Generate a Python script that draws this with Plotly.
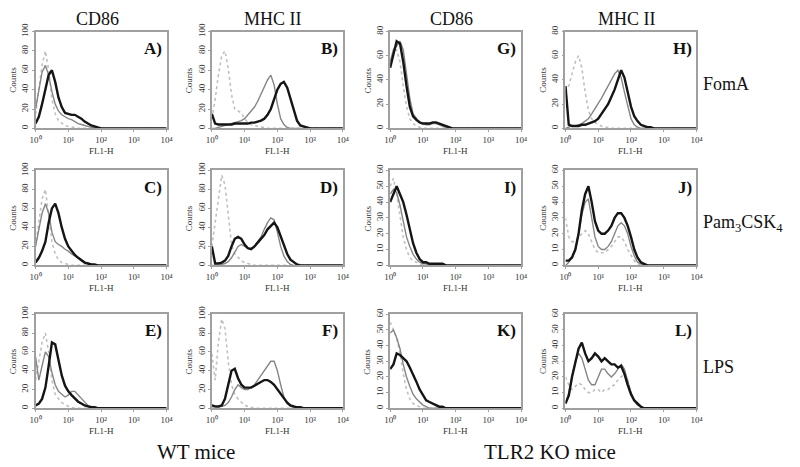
import plotly.graph_objects as go

# FL1-H channel positions (log scale grid)
FL1 = [1, 1.26, 1.58, 2.0, 2.51, 3.16, 3.98, 5.01, 6.31, 7.94, 10,
       12.6, 15.8, 20, 25.1, 31.6, 39.8, 50.1, 63.1, 79.4, 100, 126,
       158, 200, 251, 316, 398, 501, 631, 794, 1000, 3162, 10000]

# ---- WT mice, CD86 ----
A_ctrl = [15,40,65,80,60,30,15,8,5,3,2, 1,1,0,0,0,0,0,0,0,0,0, 0,0,0,0,0,0,0,0,0,0,0]
A_gray = [20,40,58,65,55,38,25,18,14,12,10, 9,7,5,4,3,2,1,1,0,0,0, 0,0,0,0,0,0,0,0,0,0,0]
A_black = [5,12,25,42,55,60,48,32,22,16,15, 14,14,12,10,7,5,3,2,1,0,0, 0,0,0,0,0,0,0,0,0,0,0]
C_ctrl = [20,45,70,80,55,25,12,6,3,2,1, 0,0,0,0,0,0,0,0,0,0,0, 0,0,0,0,0,0,0,0,0,0,0]
C_gray = [20,40,55,65,55,35,25,22,20,17,15, 12,10,8,5,3,2,1,0,0,0,0, 0,0,0,0,0,0,0,0,0,0,0]
C_black = [3,8,15,25,45,60,65,55,40,28,20, 15,11,8,5,3,2,1,1,0,0,0, 0,0,0,0,0,0,0,0,0,0,0]
E_ctrl = [30,50,70,80,60,30,15,10,6,4,2, 1,0,0,0,0,0,0,0,0,0,0, 0,0,0,0,0,0,0,0,0,0,0]
E_gray = [55,30,45,60,55,38,25,18,15,12,14, 18,18,14,10,6,3,2,1,0,0,0, 0,0,0,0,0,0,0,0,0,0,0]
E_black = [3,5,10,22,45,70,68,52,35,24,18, 14,10,7,5,3,2,1,1,0,0,0, 0,0,0,0,0,0,0,0,0,0,0]

# ---- WT mice, MHC II ----
B_ctrl = [10,30,55,75,80,62,35,20,18,16,10, 6,4,3,2,1,1,0,0,0,0,0, 0,0,0,0,0,0,0,0,0,0,0]
B_gray = [0,0,1,2,3,4,5,6,7,8,10, 14,18,22,28,35,42,50,55,45,25,10, 4,1,0,0,0,0,0,0,0,0,0]
B_black = [15,5,4,4,4,4,4,5,5,5,5, 5,6,6,7,8,10,14,20,30,40,46, 48,42,30,18,8,3,2,1,0,0,0]
D_ctrl = [20,45,75,95,85,50,22,12,8,5,3, 2,1,0,0,0,0,0,0,0,0,0, 0,0,0,0,0,0,0,0,0,0,0]
D_gray = [0,0,0,1,2,4,8,14,20,22,20, 18,18,20,25,30,38,45,50,48,35,20, 10,4,1,0,0,0,0,0,0,0,0]
D_black = [20,2,2,3,5,10,20,28,30,28,22, 18,17,20,24,28,32,38,42,45,40,30, 20,12,6,3,1,0,0,0,0,0,0]
F_ctrl = [58,30,70,95,85,50,25,15,10,6,3, 2,1,0,0,0,0,0,0,0,0,0, 0,0,0,0,0,0,0,0,0,0,0]
F_gray = [0,0,1,2,3,6,12,20,25,22,20, 20,22,25,30,35,40,46,50,50,40,25, 12,5,2,1,0,0,0,0,0,0,0]
F_black = [3,2,2,3,10,25,40,42,32,25,22, 22,22,24,26,28,30,30,28,25,20,15, 10,6,3,2,1,1,0,0,0,0,0]

# ---- TLR2 KO mice, CD86 ----
G_ctrl = [50,62,65,55,35,18,8,4,2,1,0, 0,0,0,0,0,0,0,0,0,0,0, 0,0,0,0,0,0,0,0,0,0,0]
G_gray = [55,65,68,72,65,45,25,12,8,5,4, 3,3,4,4,3,2,1,1,0,0,0, 0,0,0,0,0,0,0,0,0,0,0]
G_black = [50,60,72,70,55,35,18,10,7,5,4, 4,4,5,5,4,3,2,1,0,0,0, 0,0,0,0,0,0,0,0,0,0,0]
I_ctrl = [50,55,45,30,18,10,5,3,2,1,0, 0,0,0,0,0,0,0,0,0,0,0, 0,0,0,0,0,0,0,0,0,0,0]
I_gray = [45,48,46,38,28,18,12,7,4,2,1, 1,0,0,0,0,0,0,0,0,0,0, 0,0,0,0,0,0,0,0,0,0,0]
I_black = [40,45,50,45,40,32,22,14,8,4,2, 2,1,1,1,1,1,0,0,0,0,0, 0,0,0,0,0,0,0,0,0,0,0]
K_ctrl = [55,50,45,35,22,12,6,3,2,1,0, 0,0,0,0,0,0,0,0,0,0,0, 0,0,0,0,0,0,0,0,0,0,0]
K_gray = [48,50,45,38,28,20,14,9,6,4,2, 1,0,0,0,0,0,0,0,0,0,0, 0,0,0,0,0,0,0,0,0,0,0]
K_black = [25,28,35,34,32,30,26,22,17,12,8, 5,4,3,2,1,1,0,0,0,0,0, 0,0,0,0,0,0,0,0,0,0,0]

# ---- TLR2 KO mice, MHC II ----
H_ctrl = [30,35,45,55,60,50,30,15,8,5,3, 2,1,1,0,0,0,0,0,0,0,0, 0,0,0,0,0,0,0,0,0,0,0]
H_gray = [0,1,2,2,3,4,6,8,12,16,20, 25,30,35,40,45,48,42,30,18,8,3, 1,0,0,0,0,0,0,0,0,0,0]
H_black = [35,3,2,2,2,3,3,4,5,6,8, 12,16,20,26,32,40,48,42,30,18,10, 6,3,2,1,1,0,0,0,0,0,0]
J_ctrl = [30,18,15,15,18,20,22,20,15,10,8, 8,8,10,12,15,18,18,15,10,6,3, 1,0,0,0,0,0,0,0,0,0,0]
J_gray = [0,2,5,10,20,32,40,42,30,18,12, 10,10,12,15,20,25,27,25,20,12,6, 2,1,0,0,0,0,0,0,0,0,0]
J_black = [3,3,5,10,20,35,45,50,40,28,22, 20,20,22,25,30,33,33,30,25,18,10, 5,2,1,0,0,0,0,0,0,0,0]
L_ctrl = [20,15,12,14,16,15,12,10,10,12,12, 10,12,12,14,15,18,20,22,18,10,5, 2,1,0,0,0,0,0,0,0,0,0]
L_gray = [3,10,20,30,35,32,25,18,15,15,20, 25,25,22,20,22,25,28,25,18,10,5, 2,1,0,0,0,0,0,0,0,0,0]
L_black = [3,8,20,30,38,42,35,30,32,35,33, 30,32,30,28,28,26,27,22,15,9,5, 3,1,0,0,0,0,0,0,0,0,0]

X_TICKS = [1, 10, 100, 1000, 10000]
X_TICKTEXT = ["10\u2070", "10\u00b9", "10\u00b2", "10\u00b3", "10\u2074"]
COL_HEADERS = ["CD86", "MHC II", "CD86", "MHC II"]
ROW_LABELS = ["FomA", "Pam<sub>3</sub>CSK<sub>4</sub>", "LPS"]
GROUP_LABELS = ["WT mice", "TLR2 KO mice"]

# (label, row, col, ymax, ydtick, ctrl, gray, black)
panels = [
    ("A)", 0, 0, 100, 20, A_ctrl, A_gray, A_black),
    ("B)", 0, 1, 100, 20, B_ctrl, B_gray, B_black),
    ("G)", 0, 2, 80, 20, G_ctrl, G_gray, G_black),
    ("H)", 0, 3, 80, 20, H_ctrl, H_gray, H_black),
    ("C)", 1, 0, 100, 20, C_ctrl, C_gray, C_black),
    ("D)", 1, 1, 100, 20, D_ctrl, D_gray, D_black),
    ("I)", 1, 2, 60, 10, I_ctrl, I_gray, I_black),
    ("J)", 1, 3, 60, 10, J_ctrl, J_gray, J_black),
    ("E)", 2, 0, 100, 20, E_ctrl, E_gray, E_black),
    ("F)", 2, 1, 100, 20, F_ctrl, F_gray, F_black),
    ("K)", 2, 2, 60, 10, K_ctrl, K_gray, K_black),
    ("L)", 2, 3, 60, 10, L_ctrl, L_gray, L_black),
]

WPX, HPX = 800, 467
COL_LEFT = [30, 209, 390, 568]
PW = 133
ROWS = [(23, 122), (165, 262), (312, 408)]
SERIF = "Liberation Serif"

def px(x):
    return x / WPX

def py(y):
    return 1 - y / HPX

def note(text, x, y, size, xanchor="center", angle=0, color="#111"):
    return dict(text=text, x=px(x), y=py(y), xref="paper", yref="paper",
                xanchor=xanchor, yanchor="middle", textangle=angle,
                showarrow=False, font=dict(family=SERIF, size=size, color=color))

styles = [
    dict(color="#c0c0c0", width=1.6, dash="dot"),
    dict(color="#858585", width=1.4),
    dict(color="#151515", width=2.4),
]

fig = go.Figure()
annotations = []
for i, (lab, r, c, ymax, dt, ctrl, gray, black) in enumerate(panels):
    n = i + 1
    sfx = "" if n == 1 else str(n)
    for ys, st in zip((ctrl, gray, black), styles):
        fig.add_trace(go.Scatter(x=FL1, y=ys, xaxis="x" + sfx, yaxis="y" + sfx,
                                 mode="lines", line=st, showlegend=False,
                                 hoverinfo="skip"))
    left = COL_LEFT[c]
    top, bot = ROWS[r]
    fig.layout["xaxis" + sfx] = dict(
        domain=[px(left), px(left + PW)], anchor="y" + sfx, type="log",
        range=[0, 4], tickvals=X_TICKS, ticktext=X_TICKTEXT,
        showline=True, mirror=True, linecolor="#a0a0a0", linewidth=1.5,
        ticks="outside", ticklen=2, tickcolor="#a0a0a0",
        tickfont=dict(family=SERIF, size=9, color="#333"),
        showgrid=False, zeroline=False, fixedrange=True)
    fig.layout["yaxis" + sfx] = dict(
        domain=[py(bot), py(top)], anchor="x" + sfx, range=[0, ymax],
        tickvals=list(range(0, ymax + 1, dt)), tickangle=-90,
        showline=True, mirror=True, linecolor="#a0a0a0", linewidth=1.5,
        ticks="outside", ticklen=2, tickcolor="#a0a0a0",
        tickfont=dict(family=SERIF, size=9, color="#333"),
        showgrid=False, zeroline=False, fixedrange=True)
    annotations.append(note("Counts", left - 23, (top + bot) / 2, 9, angle=-90, color="#333"))
    annotations.append(note("FL1-H", left + PW / 2, bot + 23, 9, color="#333"))
    annotations.append(note("<b>" + lab + "</b>", left + PW - 3, top + 17, 17, xanchor="right"))

for c, h in enumerate(COL_HEADERS):
    annotations.append(note(h, COL_LEFT[c] + PW / 2 - 4, 10, 18))
for r, t in enumerate(ROW_LABELS):
    top, bot = ROWS[r]
    annotations.append(note(t, 706, top + 54, 18, xanchor="left"))
annotations.append(note(GROUP_LABELS[0], 193, 453, 21))
annotations.append(note(GROUP_LABELS[1], 552, 453, 21))

fig.update_layout(width=WPX, height=HPX, margin=dict(l=0, r=0, t=0, b=0),
                  paper_bgcolor="white", plot_bgcolor="white",
                  annotations=annotations)
fig.write_html("out.html", config={"displayModeBar": False},
               post_script="document.body.style.margin='0px';"
                           "document.body.style.overflow='hidden';")
